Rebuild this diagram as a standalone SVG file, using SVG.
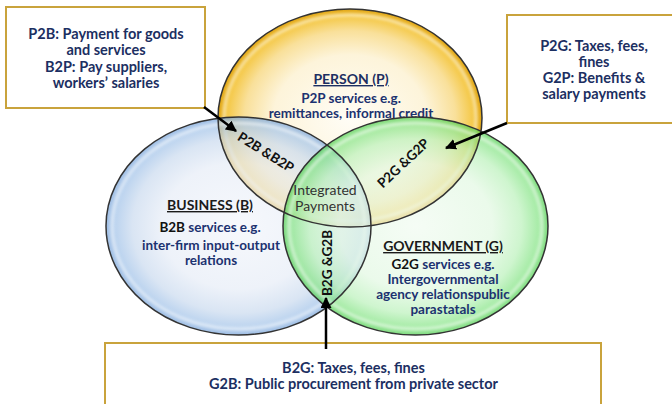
<svg xmlns="http://www.w3.org/2000/svg" width="672" height="404" viewBox="0 0 672 404">
  <style>
    .box { fill: #ffffff; stroke: #c9a33c; stroke-width: 2; }
    .boxtxt { font-family: Lato, "Open Sans", sans-serif; font-weight: bold; font-size: 14.5px; fill: #1c2f62; text-anchor: middle; }
    .title { font-family: Lato, "Open Sans", sans-serif; font-weight: bold; font-size: 14px; fill: #1c2f62; text-anchor: middle; text-decoration: underline; }
    .title.dark { fill: #1a1a1a; }
    .body { font-family: Lato, "Open Sans", sans-serif; font-weight: bold; font-size: 13.5px; fill: #1c3270; text-anchor: middle; }
    .blk { fill: #111111; }
    .tag { font-family: Lato, "Open Sans", sans-serif; font-weight: bold; font-size: 13.5px; fill: #111111; text-anchor: middle; dominant-baseline: central; }
    .mid { font-family: Lato, "Open Sans", sans-serif; font-size: 14px; fill: #333333; text-anchor: middle; }
    .outline { fill: none; stroke: #333333; stroke-width: 1.5; }
    .gloss { fill: none; stroke: #ffffff; stroke-width: 3; opacity: 0.55; filter: url(#soft); }
    .arrow { stroke: #000000; stroke-width: 2.5; fill: none; marker-end: url(#head); }
  </style>
  <defs>
    <radialGradient id="gYellow" cx="0.5" cy="0.5" r="0.5">
      <stop offset="0" stop-color="#fffdf6"/>
      <stop offset="0.58" stop-color="#fdf4da"/>
      <stop offset="0.8" stop-color="#f9e09a"/>
      <stop offset="0.94" stop-color="#f4c743"/>
      <stop offset="1" stop-color="#e0a515"/>
    </radialGradient>
    <radialGradient id="gBlue" cx="0.5" cy="0.5" r="0.5">
      <stop offset="0" stop-color="#f3f6fb"/>
      <stop offset="0.58" stop-color="#e7edf7"/>
      <stop offset="0.8" stop-color="#cbdbef"/>
      <stop offset="0.94" stop-color="#9fc1e8"/>
      <stop offset="1" stop-color="#7aa5da"/>
    </radialGradient>
    <radialGradient id="gGreen" cx="0.5" cy="0.5" r="0.5">
      <stop offset="0" stop-color="#f1fbf1"/>
      <stop offset="0.58" stop-color="#e2f8e2"/>
      <stop offset="0.8" stop-color="#baf1ba"/>
      <stop offset="0.94" stop-color="#7de27d"/>
      <stop offset="1" stop-color="#4ccd4c"/>
    </radialGradient>
    <filter id="soft" x="-10%" y="-10%" width="120%" height="120%">
      <feGaussianBlur stdDeviation="1.5"/>
    </filter>
    <marker id="head" viewBox="0 0 10 10" refX="9" refY="5" markerWidth="4.4" markerHeight="4.4" orient="auto" markerUnits="strokeWidth">
      <path d="M0,0 L10,5 L0,10 Z" fill="#000000"/>
    </marker>
    <ellipse id="eP" cx="350" cy="118" rx="132" ry="109"/>
    <ellipse id="eB" cx="238.5" cy="226" rx="132.5" ry="109"/>
    <ellipse id="eG" cx="415.5" cy="226" rx="132.5" ry="109"/>
  </defs>

  <!-- Person set -->
  <g id="person">
    <use href="#eP" fill="url(#gYellow)"/>
    <ellipse class="gloss" cx="350" cy="118" rx="126" ry="103"/>
    <text class="title" x="351" y="84">PERSON (P)</text>
    <text class="body" x="351" y="103">P2P services e.g.</text>
    <text class="body" x="351" y="118">remittances, informal credit</text>
  </g>

  <!-- Business set -->
  <g id="business">
    <use href="#eB" fill="url(#gBlue)" fill-opacity="0.72"/>
    <ellipse class="gloss" cx="238.5" cy="226" rx="126.5" ry="103"/>
    <text class="title dark" x="210" y="210">BUSINESS (B)</text>
    <text class="body" x="210" y="232"><tspan class="blk">B2B</tspan> services e.g.</text>
    <text class="body" x="211" y="250">inter-firm input-output</text>
    <text class="body" x="211" y="265">relations</text>
  </g>

  <!-- Government set -->
  <g id="government">
    <use href="#eG" fill="url(#gGreen)" fill-opacity="0.7"/>
    <ellipse class="gloss" cx="415.5" cy="226" rx="126.5" ry="103"/>
    <text class="title dark" x="443" y="251">GOVERNMENT (G)</text>
    <text class="body" x="443" y="269"><tspan class="blk">G2G</tspan>  services e.g.</text>
    <text class="body" x="443" y="284">Intergovernmental</text>
    <text class="body" x="443" y="299">agency relationspublic</text>
    <text class="body" x="443" y="314">parastatals</text>
  </g>

  <!-- set outlines on top so every boundary stays visible -->
  <g id="outlines">
    <use href="#eP" class="outline"/>
    <use href="#eB" class="outline"/>
    <use href="#eG" class="outline"/>
  </g>

  <!-- overlap labels -->
  <g id="overlaps">
    <text class="tag" transform="translate(266,152) rotate(32)">P2B &amp;B2P</text>
    <text class="tag" transform="translate(403,163) rotate(-43)">P2G &amp;G2P</text>
    <text class="tag" transform="translate(327,263) rotate(-90)">B2G &amp;G2B</text>
    <text class="mid" x="325" y="195">Integrated</text>
    <text class="mid" x="325" y="211">Payments</text>
  </g>

  <!-- callout boxes -->
  <g id="box-p2b">
    <rect class="box" x="6" y="7" width="199" height="101"/>
    <text class="boxtxt" x="106" y="38.5">P2B: Payment for goods</text>
    <text class="boxtxt" x="106" y="55">and services</text>
    <text class="boxtxt" x="106" y="71.5">B2P: Pay suppliers,</text>
    <text class="boxtxt" x="106" y="88">workers’ salaries</text>
  </g>
  <g id="box-p2g">
    <rect class="box" x="507" y="15" width="180" height="108"/>
    <text class="boxtxt" x="594" y="50.5">P2G: Taxes, fees,</text>
    <text class="boxtxt" x="594" y="66.5">fines</text>
    <text class="boxtxt" x="594" y="82.5">G2P: Benefits &amp;</text>
    <text class="boxtxt" x="594" y="98.5">salary payments</text>
  </g>
  <g id="box-b2g">
    <rect class="box" x="105" y="343" width="496" height="70"/>
    <text class="boxtxt" x="353.5" y="372.5">B2G: Taxes, fees, fines</text>
    <text class="boxtxt" x="353.5" y="389">G2B: Public procurement from private sector</text>
  </g>

  <!-- connectors -->
  <g id="connectors">
    <line class="arrow" x1="204" y1="107" x2="236" y2="131"/>
    <line class="arrow" x1="507" y1="123" x2="446" y2="148"/>
    <line class="arrow" x1="326" y1="349" x2="326" y2="298"/>
  </g>
</svg>
